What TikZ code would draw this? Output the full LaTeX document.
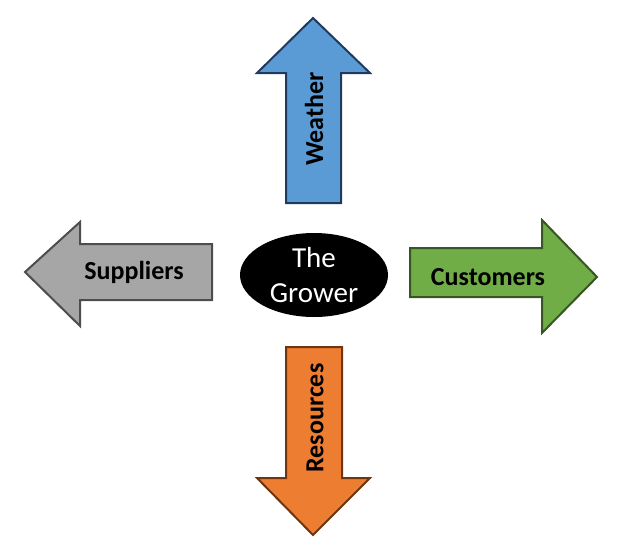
\documentclass[tikz,border=0pt]{standalone}
\usepackage{fontspec}
\setmainfont{Carlito}
\usetikzlibrary{shapes.geometric}

\definecolor{wxblue}{HTML}{5B9BD5}
\definecolor{wxline}{HTML}{1F3A5F}
\definecolor{supgray}{HTML}{A6A6A6}
\definecolor{supline}{HTML}{4D4D4D}
\definecolor{cusgreen}{HTML}{70AD47}
\definecolor{cusline}{HTML}{375623}
\definecolor{resorange}{HTML}{ED7D31}
\definecolor{resline}{HTML}{6E3510}

\begin{document}
\begin{tikzpicture}[x=1pt,y=-1pt,line width=2pt,line join=miter]
        \tikzset{arrowlabel/.style={font=\fontsize{26}{28}\selectfont\bfseries, inner sep=0pt}}
        \useasboundingbox (0,0) rectangle (624,552);

        % the four arrows
        \draw[fill=wxblue, draw=wxline] (313,18) -- (370,73) -- (341,73) -- (341,203) -- (286,203) -- (286,73) -- (257,73) -- cycle;
        \draw[fill=supgray, draw=supline] (25,272) -- (80,222) -- (80,244) -- (212,244) -- (212,300) -- (80,300) -- (80,326) -- cycle;
        \draw[fill=cusgreen, draw=cusline] (597,277) -- (542,220) -- (542,248) -- (410,248) -- (410,297) -- (542,297) -- (542,333) -- cycle;
        \draw[fill=resorange, draw=resline] (313,535) -- (370,478) -- (342,478) -- (342,347) -- (286,347) -- (286,478) -- (257,478) -- cycle;

        % labels
        \node (weather) [arrowlabel, rotate=90] at (314,119) {Weather};
        \node (suppliers) [arrowlabel] at (134,272) {Suppliers};
        \node (customers) [arrowlabel] at (488,277) {Customers};
        \node (resources) [arrowlabel, rotate=90] at (315,418) {Resources};

        % centre
        \node (grower) [ellipse, fill=black, text=white, minimum width=148pt, minimum height=84pt, inner sep=0pt, align=center, font=\fontsize{29}{35}\selectfont] at (314,275) {The\\Grower};
\end{tikzpicture}
\end{document}
